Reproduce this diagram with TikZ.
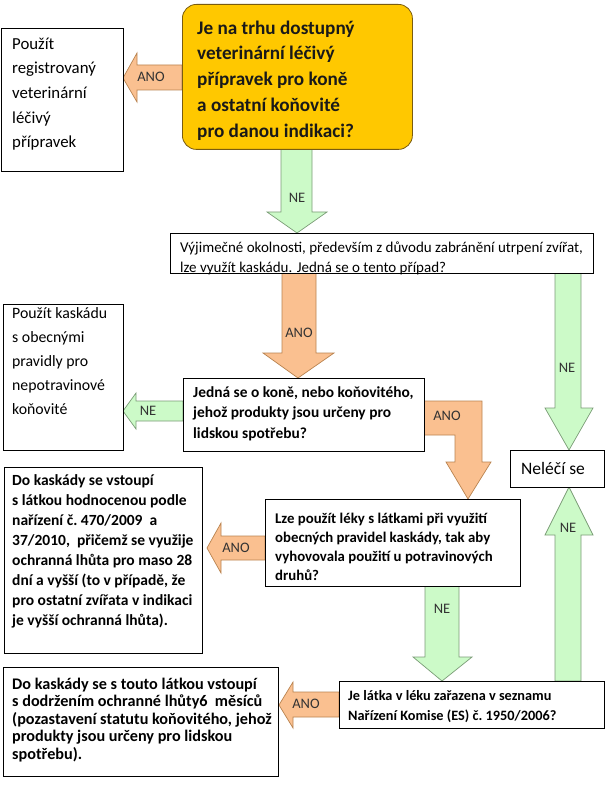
\documentclass[tikz,border=0pt]{standalone}
\usepackage{fontspec}
\setmainfont{Carlito}
\definecolor{yfill}{HTML}{FFC800}
\definecolor{ydraw}{HTML}{7A5C10}
\definecolor{ofill}{HTML}{FAC090}
\definecolor{odraw}{HTML}{B9834F}
\definecolor{gfill}{HTML}{CCFAC8}
\definecolor{gdraw}{HTML}{7A9C76}
\tikzset{
  box/.style={draw=black, line width=0.8pt, fill=white, inner sep=0pt, anchor=north west},
  txt/.style={anchor=north west, inner sep=0pt, align=left},
  oarr/.style={fill=ofill, draw=odraw, line width=0.7pt, line join=miter},
  garr/.style={fill=gfill, draw=gdraw, line width=0.7pt, line join=miter},
  lbl/.style={inner sep=0pt, text=black!80, font=\fontsize{14.5}{14.5}\selectfont},
}
\begin{document}
\begin{tikzpicture}[x=1pt,y=-1pt]
\useasboundingbox (0,0) rectangle (607,802);
% ---------- block arrows (drawn under the boxes)
% A1 ANO yellow -> b1
\draw[oarr] (182,65) -- (137,65) -- (137,53) -- (123,78) -- (137,102) -- (137,90) -- (182,90) -- cycle;
% A2 NE yellow -> vyj
\draw[garr] (281,149) -- (312,149) -- (312,212) -- (327,212) -- (297,233) -- (267,212) -- (281,212) -- cycle;
% A3 ANO vyj -> jedna
\draw[oarr] (282,273) -- (316,273) -- (316,353) -- (334,353) -- (298,378) -- (263,353) -- (282,353) -- cycle;
% A4 NE vyj -> nelec
\draw[garr] (555,273) -- (581,273) -- (581,408) -- (593,408) -- (569,450) -- (545,408) -- (555,408) -- cycle;
% A5 NE jelatka -> nelec
\draw[garr] (555,681) -- (581,681) -- (581,535) -- (593,535) -- (569,487) -- (545,535) -- (555,535) -- cycle;
% A6 NE jedna -> b2
\draw[garr] (183,401) -- (136,401) -- (136,393) -- (123,411) -- (136,429) -- (136,421) -- (183,421) -- cycle;
% A7 ANO lze -> dokask
\draw[oarr] (265,536) -- (221,536) -- (221,523) -- (207,548) -- (221,573) -- (221,560) -- (265,560) -- cycle;
% A8 ANO jelatka -> b3
\draw[oarr] (339,692) -- (293,692) -- (293,682) -- (279,705) -- (293,728) -- (293,717) -- (339,717) -- cycle;
% A9 NE lze -> jelatka
\draw[garr] (425,586) -- (459,586) -- (459,657) -- (472,657) -- (442,681) -- (413,657) -- (425,657) -- cycle;
% A10 ANO jedna -> lze (elbow)
\draw[oarr] (424,401) -- (482,401) -- (482,462) -- (491,462) -- (468,499) -- (446,462) -- (455,462) -- (455,435) -- (424,435) -- cycle;

% ---------- arrow labels
\node[lbl] (lA1) at (151,77) {ANO};
\node[lbl] (lA2) at (297,198) {NE};
\node[lbl] (lA3) at (299,333) {ANO};
\node[lbl] (lA4) at (567,368) {NE};
\node[lbl] (lA5) at (568,528) {NE};
\node[lbl] (lA6) at (148,411) {NE};
\node[lbl] (lA7) at (236,548) {ANO};
\node[lbl] (lA8) at (306,704) {ANO};
\node[lbl] (lA9) at (442,609) {NE};
\node[lbl] (lA10) at (447,416) {ANO};

% ---------- boxes
\node[box, minimum width=122, minimum height=143] (b1) at (1,28) {};
\node[draw=ydraw, fill=yfill, line width=0.8pt, rounded corners=14, inner sep=0pt, anchor=north west,
      minimum width=230, minimum height=145] (q1) at (182,4) {};
\node[box, minimum width=423, minimum height=40] (vyj) at (170,233) {};
\node[box, minimum width=120, minimum height=146] (b2) at (3,304) {};
\node[box, minimum width=241, minimum height=73] (jedna) at (183,378) {};
\node[box, minimum width=94, minimum height=37] (nelec) at (510,450) {};
\node[box, minimum width=198, minimum height=186] (dokask) at (4,467) {};
\node[box, minimum width=255, minimum height=87] (lze) at (265,499) {};
\node[box, minimum width=265, minimum height=47] (jelatka) at (339,681) {};
\node[box, minimum width=275, minimum height=109] (b3) at (3,667) {};

% ---------- texts
\node[txt, font=\fontsize{16.8}{24.7}\selectfont] (t1) at (12,37.5) {Použít\\registrovaný\\veterinární\\léčivý\\přípravek};
\node[txt, font=\fontsize{19.2}{25.8}\selectfont\bfseries, text=black!90] (tq1) at (197,20.5)
  {Je na trhu dostupný\\veterinární léčivý\\přípravek pro koně\\a ostatní koňovité\\pro danou indikaci?};
\node[txt, font=\fontsize{15}{20}\selectfont] (tvyj) at (180,241.5) {Výjimečné okolnosti, především z důvodu zabránění utrpení zvířat,\\lze využít kaskádu. Jedná se o tento případ?};
\node[txt, font=\fontsize{15.8}{24}\selectfont] (t2) at (12,307) {Použít kaskádu\\s obecnými\\pravidly pro\\nepotravinové\\koňovité};
\node[txt, font=\fontsize{15.4}{20.5}\selectfont\bfseries] (tjedna) at (193,386) {Jedná se o koně, nebo koňovitého,\\jehož produkty jsou určeny pro\\lidskou spotřebu?};
\node[font=\fontsize{17.5}{20}\selectfont, inner sep=0pt] (tnelec) at (553,468) {Neléčí se};
\node[txt, font=\fontsize{15.5}{20}\selectfont\bfseries] (tdokask) at (12,474) {Do kaskády se vstoupí\\s látkou hodnocenou podle\\nařízení č.\ 470/2009~~a\\37/2010,~~přičemž se využije\\ochranná lhůta pro maso 28\\dní a vyšší (to v případě, že\\pro ostatní zvířata v indikaci\\je vyšší ochranná lhůta).};
\node[txt, font=\fontsize{14.8}{19}\selectfont\bfseries] (tlze) at (275,513) {Lze použít léky s látkami při využití\\obecných pravidel kaskády, tak aby\\vyhovovala použití u potravinových\\druhů?};
\node[txt, font=\fontsize{14.3}{20}\selectfont\bfseries] (tjel) at (348,690) {Je látka v léku zařazena v seznamu\\Nařízení Komise (ES) č.\ 1950/2006?};
\node[txt, font=\fontsize{16.2}{17.6}\selectfont\bfseries] (t3) at (12,677.5) {Do kaskády se s touto látkou vstoupí\\s dodržením ochranné lhůty6~ měsíců\\(pozastavení statutu koňovitého, jehož\\produkty jsou určeny pro lidskou\\spotřebu).};
\end{tikzpicture}
\end{document}
